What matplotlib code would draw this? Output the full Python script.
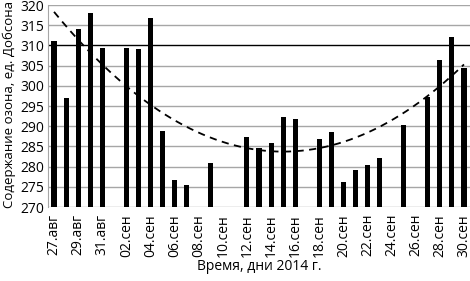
import numpy as np
import pandas as pd
import matplotlib
matplotlib.use("Agg")
import matplotlib.pyplot as plt

plt.rcParams["font.family"] = ["Open Sans", "DejaVu Sans"]

# -----------------------------
# Данные
# -----------------------------
dates = pd.date_range("2014-08-27", "2014-09-30", freq="D")
obs_dates = [
    "2014-08-27", "2014-08-28", "2014-08-29", "2014-08-30", "2014-08-31",
    "2014-09-02", "2014-09-03", "2014-09-04", "2014-09-05", "2014-09-06",
    "2014-09-07", "2014-09-09", "2014-09-12", "2014-09-13", "2014-09-14",
    "2014-09-15", "2014-09-16", "2014-09-18", "2014-09-19", "2014-09-20",
    "2014-09-21", "2014-09-22", "2014-09-23", "2014-09-25", "2014-09-27",
    "2014-09-28", "2014-09-29", "2014-09-30",
]
ozone = [
    311.0, 296.9, 314.1, 318.1, 309.3,
    309.4, 309.1, 316.9, 288.8, 276.6,
    275.4, 281.0, 287.4, 284.6, 285.9,
    292.3, 291.7, 286.9, 288.6, 276.2,
    279.2, 280.4, 282.1, 290.2, 297.3,
    306.5, 312.0, 304.4,
]
months_ru = {8: "авг", 9: "сен"}

# -----------------------------
# Подготовка
# -----------------------------
obs = pd.Series(ozone, index=pd.to_datetime(obs_dates))
x_obs = (obs.index - dates[0]).days.values
x_all = np.arange(len(dates))

# полиномиальный тренд 2-й степени (как в Excel)
coef = np.polyfit(x_obs, obs.values, 2)
x_tr = np.linspace(0, len(dates) - 1, 200)
trend = np.polyval(coef, x_tr)

fig = plt.figure(figsize=(4.7, 2.81), dpi=100)
ax = fig.add_axes([48 / 470, 1 - 207 / 281, 422 / 470, 202 / 281])

ax.bar(x_obs, obs.values - 270, bottom=270, width=0.42, color="black", zorder=3)
ax.plot(x_tr, trend, "--", color="black", lw=1.3, dashes=(4, 3), zorder=4)

ax.set_xlim(-0.5, len(dates) - 0.5)
ax.set_ylim(270, 320)
ax.set_yticks(np.arange(270, 321, 5))
for y in np.arange(270, 321, 5):
    ax.axhline(y, color="black" if y == 310 else "#a6a6a6", lw=1, zorder=1)

fs = 10
labels = [f"{d.day:02d}.{months_ru[d.month]}" for d in dates[::2]]
ax.set_xticks(x_all[::2])
ax.set_xticklabels(labels, rotation=90, fontsize=fs)
ax.tick_params(axis="y", labelsize=fs, length=0, pad=3)
ax.tick_params(axis="x", length=0, pad=5)

for s in ["top", "right", "bottom"]:
    ax.spines[s].set_visible(False)
ax.spines["left"].set_color("#a6a6a6")

fig.text(9 / 470, 1 - 104 / 281, "Содержание озона, ед. Добсона",
         rotation=90, fontsize=9.5, ha="center", va="center")
ax.set_xlabel("Время, дни 2014 г.", fontsize=fs, labelpad=2)

fig.savefig("out.png", dpi=100)
